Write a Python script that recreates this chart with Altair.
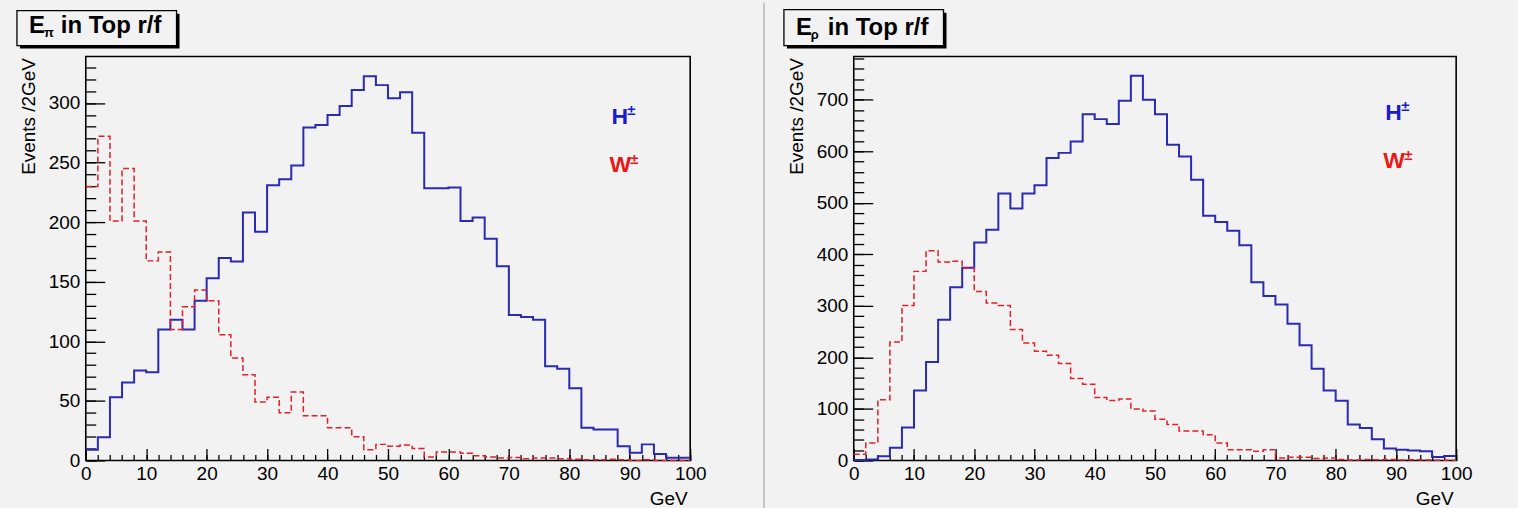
import altair as alt
import pandas as pd

# ---- data: 50 bins of 2 GeV between 0 and 100 GeV ----
EDGES = list(range(0, 101, 2))

PI_H = [9, 19.5, 53, 65.5, 75.5, 74, 110, 118, 110, 134,
        153, 170, 167, 208, 192, 231, 236, 247.5, 279.5, 281.5,
        290, 297.5, 311, 322.5, 315, 304, 309, 275, 228.5, 228.5,
        229, 201, 204, 186, 163, 122, 120.5, 118, 79, 77,
        60.5, 27.5, 26, 26, 12, 6.5, 13.5, 5.5, 2.2, 2.2]
PI_W = [230, 272, 201, 245, 201, 167.5, 175, 110, 129, 143,
        134, 105.5, 86, 72, 49, 53, 40, 57.5, 37.5, 37.5,
        27.5, 27.5, 20, 9, 13.5, 12, 13, 10, 3, 7,
        7, 6, 4, 3, 2, 2.5, 1.5, 2, 2, 1.5,
        1, 0.5, 0.5, 1, 0.5, 0, 0.5, 0, 0, 0]

RHO_H = [1, 2, 8.3, 24.5, 64, 136, 191, 273, 336, 374,
         423, 448, 518, 489, 518, 534, 587, 597, 619, 672,
         662.5, 653, 698, 746.5, 700, 672, 613, 590, 545, 475,
         463, 446, 417.5, 346, 319, 302.5, 265.5, 223.5, 178, 136,
         116, 70, 63, 41, 23, 21, 19.5, 18, 6.5, 8.5]
RHO_W = [12, 34, 118, 230, 301, 367, 407, 385, 386.5, 373.5,
         328, 305.5, 301, 254, 228, 212, 204, 188, 159, 148,
         122, 116.5, 119.5, 100, 96, 80, 70, 57, 57, 50,
         34, 21, 21, 18, 21, 5, 6, 6, 4, 5,
         2, 1, 2, 1.5, 2, 1, 1.5, 1, 0.5, 0.5]

X_MAJOR = list(range(0, 101, 10))
X_MINOR = list(range(0, 101, 2))

BG = "#f2f2f2"
BLUE = "#2a2ab4"
RED = "#e0202a"
TXT_BLUE = "#1c1ccc"
TXT_RED = "#e81818"
SEP = "#c4c4c4"
FONT = "Liberation Sans"

W_PLOT_L, W_PLOT_R, H_PLOT = 606, 604, 405


def panel(h, w, ymax, ystep, yminor, width, sub, sub_dy, title_base, box, leg, edges):
    df = pd.DataFrame({"x": EDGES, "H": h + [h[-1]], "W": w + [w[-1]]})
    ymajors = list(range(0, int(ymax) + 1, ystep))
    yminors = list(range(0, int(ymax) + 1, yminor))
    xs = alt.Scale(domain=[0, 100], nice=False)
    ys = alt.Scale(domain=[0, ymax], nice=False, zero=True)

    x_lab = alt.Axis(orient="bottom", values=X_MAJOR, ticks=False, tickSize=0, domain=False,
                     grid=False, labelFontSize=19, labelPadding=4, labelFlush=False,
                     labelOverlap=False, title="GeV", titleFontSize=19,
                     titleFontWeight="normal", titleX=width - 3, titleY=44,
                     titleAlign="right", titleBaseline="alphabetic")
    y_lab = alt.Axis(orient="left", values=ymajors, ticks=False, tickSize=0, domain=False,
                     grid=False, labelFontSize=19, labelPadding=6, labelFlush=False,
                     labelOverlap=False, title="Events /2GeV", titleFontSize=19,
                     titleFontWeight="normal", titleX=-57, titleY=1, titleAngle=270,
                     titleAlign="right", titleBaseline="middle")
    x_maj = alt.Axis(orient="bottom", values=X_MAJOR, offset=-12, tickSize=12, ticks=True,
                     labels=False, domain=False, grid=False, title="", tickWidth=1.3)
    y_maj = alt.Axis(orient="left", values=ymajors, offset=-19, tickSize=19, ticks=True,
                     labels=False, domain=False, grid=False, title="", tickWidth=1.3)
    x_min = alt.Axis(orient="bottom", values=X_MINOR, offset=-6, tickSize=6, ticks=True,
                     labels=False, domain=False, grid=False, title="", tickWidth=1.3)
    y_min = alt.Axis(orient="left", values=yminors, offset=-10, tickSize=10, ticks=True,
                     labels=False, domain=False, grid=False, title="", tickWidth=1.3)

    base = alt.Chart(df)
    blue = base.mark_line(interpolate="step-after", color=BLUE, strokeWidth=2).encode(
        x=alt.X("x:Q", scale=xs, axis=x_lab),
        y=alt.Y("H:Q", scale=ys, axis=y_lab),
    )
    red = base.mark_line(interpolate="step-after", color=RED, strokeWidth=1.5,
                         strokeDash=[6, 3]).encode(
        x=alt.X("x:Q", scale=xs, axis=x_maj),
        y=alt.Y("W:Q", scale=ys, axis=y_maj),
    )
    ghost = base.mark_line(strokeOpacity=0).encode(
        x=alt.X("x:Q", scale=xs, axis=x_min),
        y=alt.Y("H:Q", scale=ys, axis=y_min),
    )

    one = alt.Chart(pd.DataFrame({"k": [0]}))
    bx0, bx1, by0, by1 = box
    shadow = one.mark_rect(color="black").encode(
        x=alt.value(bx0 + 3), x2=alt.value(bx1 + 3), y=alt.value(by0 + 3), y2=alt.value(by1 + 3))
    frame = one.mark_rect(fill=BG, stroke="black", strokeWidth=1.3).encode(
        x=alt.value(bx0), x2=alt.value(bx1), y=alt.value(by0), y2=alt.value(by1))

    def txt(s, x, y, size, color="black", bold=True):
        return one.mark_text(text=s, font=FONT, fontSize=size, color=color,
                             fontWeight="bold" if bold else "normal",
                             align="left", baseline="alphabetic").encode(
            x=alt.value(x), y=alt.value(y))

    tx = bx0 + 12
    title = [txt("E", tx, title_base, 24),
             txt(sub, tx + 15, title_base + sub_dy, 13),
             txt("in Top r/f", tx + 32, title_base, 24)]
    lx, ly = leg
    legend = [txt("H", lx, ly, 23, TXT_BLUE), txt("\u00b1", lx + 16, ly - 9, 15, TXT_BLUE),
              txt("W", lx - 2, ly + 48, 23, TXT_RED), txt("\u00b1", lx + 19, ly + 40, 15, TXT_RED)]

    # pad edges: full-height vertical rules (separator / canvas edges)
    rules = [one.mark_rule(color=c, strokeWidth=sw).encode(
        x=alt.value(xv), y=alt.value(-54), y2=alt.value(454)) for xv, c, sw in edges]

    return alt.layer(*rules, blue, red, ghost, shadow, frame, *title, *legend).resolve_axis(
        x="independent", y="independent").properties(width=width, height=H_PLOT)


left = panel(PI_H, PI_W, 339, 50, 10, W_PLOT_L, "\u03c0", 4, -24, (-69, 91, -46, -11), (527, 68),
             [(-84.5, BG, 1), (680, SEP, 2)])
right = panel(RHO_H, RHO_W, 784, 100, 20, W_PLOT_R, "\u03c1", 4, -22, (-70, 90, -47, -11), (533, 64),
              [(-86.5, BG, 1), (664.5, BG, 1)])

chart = alt.hconcat(left, right, spacing=0).properties(
    background=BG,
    padding={"left": 0, "top": 0, "right": 0, "bottom": 0},
).configure_view(
    stroke="black", strokeWidth=1.6, fill=BG
).configure_axis(
    labelFont=FONT, titleFont=FONT, labelColor="black", titleColor="black", tickColor="black"
)

chart.save("out.html", embed_options={"renderer": "svg", "actions": False})
